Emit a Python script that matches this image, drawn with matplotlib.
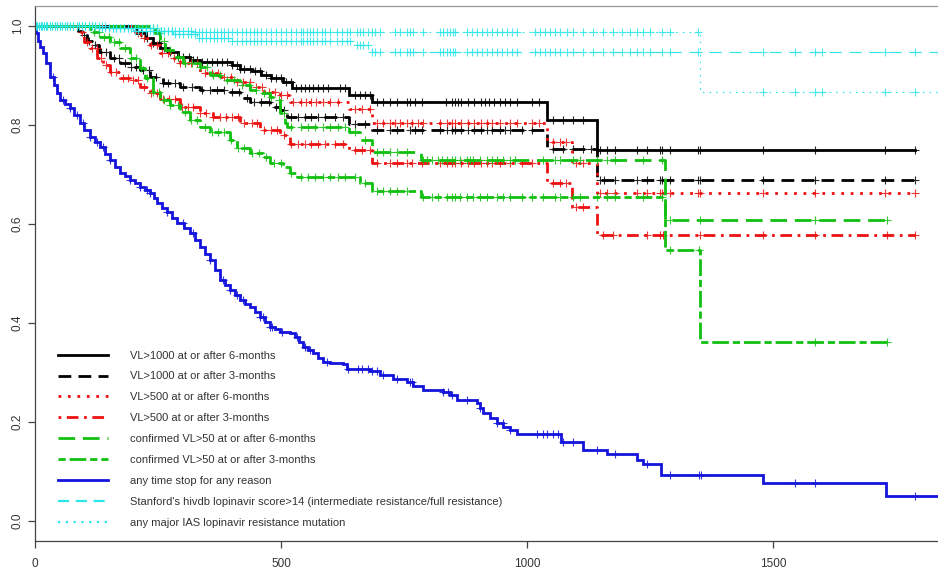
import numpy as np
import matplotlib
matplotlib.use('Agg')
import matplotlib.pyplot as plt
from matplotlib.lines import Line2D

plt.rcParams['font.family'] = ['Liberation Sans', 'DejaVu Sans']

# ---------------- data ----------------
labels = [
    "VL>1000 at or after 6-months",
    "VL>1000 at or after 3-months",
    "VL>500 at or after 6-months",
    "VL>500 at or after 3-months",
    "confirmed VL>50 at or after 6-months",
    "confirmed VL>50 at or after 3-months",
    "any time stop for any reason",
    "Stanford's hivdb lopinavir score>14 (intermediate resistance/full resistance)",
    "any major IAS lopinavir resistance mutation",
]

# step times (days) and survival after each step
vl1000_6_t = [207, 225, 240, 254, 270, 290, 315, 335, 400, 417, 440, 460, 480, 503, 523, 638, 685, 1041, 1142]
vl1000_6_s = [0.986, 0.975, 0.965, 0.955, 0.947, 0.938, 0.930, 0.927, 0.921, 0.913, 0.908, 0.901, 0.895, 0.887, 0.875, 0.861, 0.846, 0.810, 0.749]
vl1000_6_c = [215, 228, 240, 252, 262, 275, 290, 300, 312, 321, 330, 340, 350, 360, 370, 380, 390, 400, 410, 417, 425, 437,
              447, 457, 470, 480, 490, 500, 510, 520, 530, 540, 548, 556, 565, 575, 585, 595, 620, 630, 650, 660, 670, 680,
              695, 707, 721, 736, 756, 762, 772, 787, 835, 847, 853, 860, 866, 880, 892, 906, 915, 923, 933, 945, 955, 965,
              980, 1010, 1024, 1053, 1073, 1093, 1114, 1148, 1162, 1179, 1224, 1244, 1270, 1274, 1291, 1348, 1352, 1480,
              1585, 1728, 1789]

vl1000_3_t = [87, 95, 105, 117, 130, 152, 173, 193, 213, 234, 260, 295, 335, 396, 417, 437, 478, 498, 512, 638, 685, 1041, 1142]
vl1000_3_s = [0.990, 0.982, 0.970, 0.962, 0.947, 0.935, 0.925, 0.917, 0.911, 0.897, 0.885, 0.877, 0.871, 0.867, 0.855, 0.846,
              0.836, 0.830, 0.816, 0.802, 0.790, 0.751, 0.689]
vl1000_3_c = [100, 110, 122, 135, 145, 160, 170, 182, 195, 205, 220, 232, 245, 260, 270, 285, 300, 320, 340, 355, 370, 385,
              400, 415, 430, 445, 460, 475, 490, 505, 520, 535, 548, 560, 575, 590, 610, 625, 650, 670, 695, 721, 736, 762,
              772, 787, 823, 837, 848, 854, 866, 880, 892, 906, 919, 929, 945, 955, 965, 990, 1010, 1053, 1073, 1093, 1114,
              1130, 1148, 1156, 1179, 1224, 1244, 1270, 1274, 1291, 1348, 1352, 1480, 1585, 1728, 1789]

vl500_6_t = [203, 215, 234, 254, 274, 295, 335, 376, 410, 437, 465, 498, 518, 638, 685, 1041, 1091, 1142]
vl500_6_s = [0.986, 0.975, 0.962, 0.945, 0.935, 0.925, 0.905, 0.897, 0.887, 0.877, 0.867, 0.861, 0.847, 0.832, 0.804, 0.766,
             0.723, 0.663]
vl500_6_c = [210, 222, 236, 248, 258, 270, 282, 295, 305, 318, 330, 345, 360, 372, 385, 398, 410, 422, 436, 450, 462, 475,
             488, 500, 512, 525, 540, 550, 560, 572, 585, 600, 615, 650, 665, 680, 695, 707, 721, 732, 742, 756, 766, 778,
             789, 823, 837, 848, 854, 866, 880, 892, 906, 919, 929, 945, 965, 980, 1010, 1024, 1053, 1067, 1080, 1100,
             1114, 1148, 1162, 1179, 1224, 1244, 1270, 1274, 1291, 1348, 1352, 1480, 1585, 1728, 1789]

vl500_3_t = [87, 100, 112, 126, 138, 152, 173, 193, 213, 234, 254, 295, 335, 362, 417, 457, 498, 518, 638, 685, 1041, 1091, 1142]
vl500_3_s = [0.988, 0.968, 0.956, 0.935, 0.921, 0.907, 0.895, 0.891, 0.877, 0.865, 0.852, 0.836, 0.824, 0.816, 0.804, 0.790,
             0.780, 0.762, 0.749, 0.723, 0.683, 0.634, 0.578]
vl500_3_c = [95, 105, 115, 125, 135, 145, 155, 165, 178, 190, 200, 210, 222, 235, 248, 260, 272, 285, 298, 310, 322, 335,
             348, 362, 375, 388, 400, 412, 425, 440, 452, 465, 480, 492, 505, 520, 535, 548, 560, 575, 590, 610, 625, 650,
             665, 680, 695, 721, 736, 756, 766, 787, 823, 837, 848, 854, 866, 880, 892, 906, 919, 929, 945, 965, 990, 1010,
             1053, 1067, 1080, 1100, 1114, 1155, 1175, 1244, 1270, 1276, 1352, 1480, 1585, 1732, 1789]

vl50_6_t = [234, 244, 254, 264, 285, 300, 335, 356, 376, 417, 437, 457, 478, 488, 498, 508, 512, 638, 660, 685, 785, 1280]
vl50_6_s = [0.995, 0.986, 0.970, 0.952, 0.937, 0.925, 0.917, 0.901, 0.891, 0.881, 0.871, 0.865, 0.857, 0.850, 0.824, 0.804,
            0.796, 0.785, 0.770, 0.745, 0.729, 0.608]
vl50_6_c = [240, 252, 262, 275, 290, 305, 320, 335, 350, 362, 375, 390, 405, 420, 435, 450, 465, 480, 495, 505, 520, 540,
            555, 570, 585, 600, 615, 630, 650, 670, 695, 707, 721, 736, 756, 789, 797, 807, 819, 827, 837, 848, 854, 864,
            878, 884, 890, 904, 919, 929, 939, 951, 965, 976, 1033, 1057, 1067, 1093, 1108, 1142, 1163, 1179, 1236, 1274,
            1291, 1352, 1585, 1732]

vl50_3_t = [112, 132, 152, 173, 193, 213, 224, 240, 254, 275, 295, 315, 335, 356, 396, 410, 437, 463, 478, 504, 518, 532,
            660, 685, 785, 1280, 1352]
vl50_3_s = [0.988, 0.978, 0.968, 0.956, 0.935, 0.915, 0.895, 0.867, 0.850, 0.840, 0.826, 0.810, 0.796, 0.786, 0.770, 0.754,
            0.743, 0.735, 0.723, 0.715, 0.703, 0.695, 0.683, 0.667, 0.655, 0.547, 0.362]
vl50_3_c = [120, 130, 140, 150, 160, 170, 182, 195, 205, 215, 228, 240, 252, 262, 275, 290, 305, 318, 330, 345, 360, 372,
            385, 398, 412, 425, 440, 455, 470, 485, 500, 520, 540, 555, 570, 585, 600, 615, 630, 650, 670, 695, 707, 721,
            736, 756, 789, 807, 819, 837, 848, 854, 864, 878, 890, 904, 919, 939, 951, 965, 990, 1010, 1033, 1057, 1067,
            1093, 1108, 1142, 1163, 1179, 1236, 1274, 1291, 1350, 1585, 1732]

stop_t = [3, 6, 10, 16, 22, 30, 38, 45, 51, 60, 71, 80, 91, 100, 112, 122, 132, 142, 152, 162, 173, 183, 193, 203, 213,
          224, 234, 241, 248, 258, 268, 278, 289, 302, 315, 325, 335, 345, 356, 366, 376, 386, 396, 407, 417, 427, 437,
          447, 457, 468, 478, 488, 498, 518, 528, 537, 545, 555, 565, 575, 585, 600, 626, 634, 681, 701, 728, 756, 768,
          789, 829, 843, 858, 898, 904, 911, 925, 939, 952, 965, 980, 1069, 1114, 1163, 1224, 1236, 1272, 1480, 1730]
stop_s = [0.985, 0.970, 0.958, 0.945, 0.925, 0.897, 0.880, 0.865, 0.850, 0.842, 0.834, 0.820, 0.804, 0.790, 0.776, 0.766,
          0.756, 0.742, 0.729, 0.716, 0.703, 0.696, 0.689, 0.682, 0.675, 0.669, 0.663, 0.652, 0.642, 0.633, 0.624, 0.613,
          0.602, 0.592, 0.582, 0.568, 0.554, 0.540, 0.527, 0.507, 0.487, 0.477, 0.467, 0.456, 0.446, 0.439, 0.432, 0.422,
          0.412, 0.402, 0.392, 0.387, 0.382, 0.380, 0.372, 0.362, 0.352, 0.345, 0.339, 0.330, 0.321, 0.319, 0.317, 0.307,
          0.303, 0.295, 0.287, 0.281, 0.273, 0.265, 0.261, 0.255, 0.244, 0.238, 0.228, 0.218, 0.208, 0.198, 0.191, 0.184,
          0.176, 0.160, 0.143, 0.135, 0.123, 0.115, 0.093, 0.077, 0.051]
stop_c = [37, 57, 71, 85, 98, 112, 126, 138, 152, 193, 213, 228, 234, 268, 301, 321, 356, 382, 396, 410, 423, 457, 463,
          478, 482, 502, 533, 549, 559, 593, 636, 657, 665, 677, 685, 695, 707, 736, 762, 766, 829, 839, 848, 878, 904,
          939, 951, 965, 1020, 1033, 1041, 1053, 1063, 1073, 1093, 1142, 1179, 1244, 1291, 1350, 1354, 1545, 1585, 1789]

stanford_t = [130, 200, 280, 330, 400, 655, 685]
stanford_s = [0.996, 0.990, 0.983, 0.976, 0.970, 0.962, 0.947]
ias_t = [150, 250, 320, 1352]
ias_s = [0.996, 0.990, 0.988, 0.867]
cyan_c = [2, 5, 8, 12, 15, 18, 22, 25, 30, 35, 40, 45, 50, 55, 60, 66, 72, 78, 85, 90, 96, 102, 110, 116, 122, 130, 136,
          142, 150, 158, 165, 172, 180, 188, 195, 203, 210, 218, 225, 233, 240, 248, 256, 263, 270, 278, 285, 293, 300,
          310, 318, 325, 333, 340, 348, 356, 363, 370, 378, 385, 393, 400, 410, 420, 428, 436, 445, 452, 460, 470, 480,
          490, 500, 510, 520, 530, 540, 545, 553, 559, 565, 573, 583, 589, 599, 614, 624, 634, 640, 655, 661, 667, 677,
          685, 691, 701, 732, 742, 756, 762, 768, 789, 823, 829, 837, 843, 850, 854, 878, 888, 898, 909, 919, 929, 939,
          949, 959, 969, 980, 1016, 1026, 1037, 1047, 1057, 1067, 1081, 1093, 1114, 1134, 1155, 1175, 1193, 1209, 1224,
          1236, 1250, 1274, 1291, 1348, 1480, 1545, 1585, 1600, 1728, 1789]

end_times = [1789, 1789, 1789, 1789, 1732, 1732, 1840, 1840, 1840]

x_ticks = [0, 500, 1000, 1500]
y_ticks = [0.0, 0.2, 0.4, 0.6, 0.8, 1.0]

# ---------------- styles ----------------
colors = ['#000000', '#000000', '#ee1111', '#ee1111', '#11c011', '#11c011', '#1414dc', '#2ae6ea', '#2ae6ea']
widths = [2.0, 2.0, 2.0, 2.0, 2.0, 2.0, 2.0, 0.8, 0.8]
dashes = [None, (4.6, 2.6), (1.0, 2.4), (1.0, 2.0, 4.2, 2.0), (6.0, 2.8), (2.6, 1.4, 6.0, 1.4), None, (11, 7), (1.5, 4.5)]

series = [
    (vl1000_6_t, vl1000_6_s, vl1000_6_c),
    (vl1000_3_t, vl1000_3_s, vl1000_3_c),
    (vl500_6_t, vl500_6_s, vl500_6_c),
    (vl500_3_t, vl500_3_s, vl500_3_c),
    (vl50_6_t, vl50_6_s, vl50_6_c),
    (vl50_3_t, vl50_3_s, vl50_3_c),
    (stop_t, stop_s, stop_c),
    (stanford_t, stanford_s, cyan_c),
    (ias_t, ias_s, cyan_c),
]

fig = plt.figure(figsize=(9.38, 5.71), dpi=100)
ax = fig.add_axes([35 / 938, 30 / 571, 903 / 938, 535 / 571])

handles = []
for i, (t, s, c) in enumerate(series):
    tt = np.r_[0.0, np.asarray(t, float), end_times[i]]
    ss = np.r_[1.0, np.asarray(s, float), s[-1]]
    ls = '-' if dashes[i] is None else (0, dashes[i])
    ax.step(tt, ss, where='post', color=colors[i], lw=widths[i], linestyle=ls,
            solid_joinstyle='miter', dash_capstyle='butt')
    cc = np.asarray([v for v in c if v <= end_times[i]], float)
    idx = np.searchsorted(tt, cc, side='right') - 1
    ax.plot(cc, ss[idx], linestyle='none', marker='+', ms=5.5, mew=0.8, color=colors[i], alpha=0.85)
    handles.append(Line2D([], [], color=colors[i], lw=widths[i] if i < 7 else 1.6,
                          linestyle=ls if i < 7 else (0, (5, 3) if i == 7 else (1.0, 2.5)),
                          dash_capstyle='butt'))

ax.set_xlim(0, 1835)
ax.set_ylim(-0.04, 1.04)
ax.set_xticks(x_ticks)
ax.set_xticklabels([str(v) for v in x_ticks])
ax.set_yticks(y_ticks)
ax.set_yticklabels([f"{v:.1f}" for v in y_ticks], rotation=90, va='center')
ax.tick_params(axis='both', direction='out', length=5, width=0.9, color='#444444',
               labelsize=8.5, labelcolor='#333333')
ax.tick_params(axis='x', pad=7)
ax.tick_params(axis='y', pad=3)
for side in ['left', 'bottom']:
    ax.spines[side].set_color('#444444')
    ax.spines[side].set_linewidth(0.9)
ax.spines['top'].set_color('#999999')
ax.spines['top'].set_linewidth(0.9)
ax.spines['right'].set_visible(False)

leg = ax.legend(handles, labels, loc='upper left', bbox_to_anchor=(0.0255, 0.356),
                frameon=False, fontsize=8, handlelength=4.5, handletextpad=2.0,
                labelspacing=0.98, borderpad=0, borderaxespad=0)
for txt in leg.get_texts():
    txt.set_color('#333333')

fig.savefig('out.png', dpi=100)
